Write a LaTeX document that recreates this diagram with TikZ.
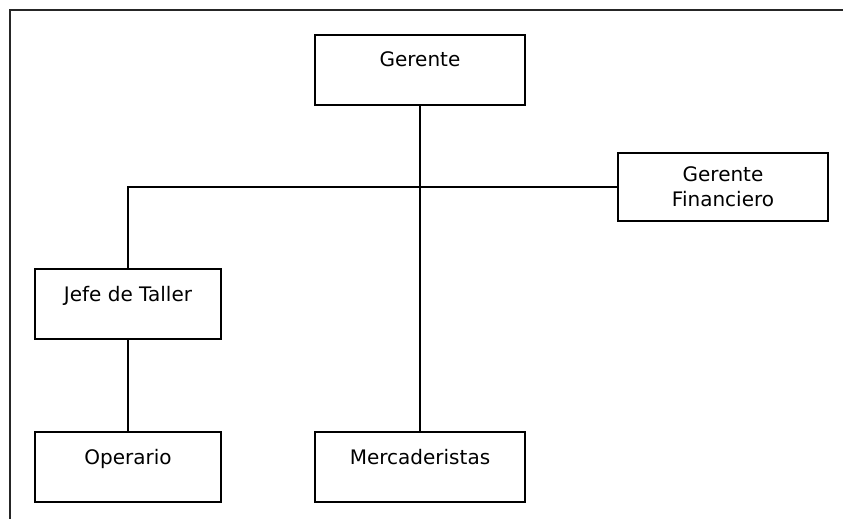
\documentclass[tikz,border=0pt]{standalone}
\usepackage{fontspec}
\setmainfont{DejaVu Sans}
\begin{document}
\begin{tikzpicture}[x=1bp,y=-1bp,
  line width=2bp,
  box/.style={draw=black, rectangle, anchor=north, inner xsep=0pt,
    inner ysep=17bp, text height=15bp, text depth=21bp,
    font=\fontsize{20bp}{25bp}\selectfont},
  wide/.style={box, minimum width=210bp},
  narrow/.style={box, minimum width=186bp},
  twoline/.style={draw=black, rectangle, anchor=north, inner sep=0pt,
    minimum width=210bp, minimum height=68bp, align=center,
    font=\fontsize{20bp}{25bp}\selectfont},
  link/.style={draw=black, line width=2bp}]
  \useasboundingbox (0,0) rectangle (843,519);
  % open frame along the top and left edges
  \draw[line width=2bp, black!85] (10,519) -- (10,10) -- (843,10);

  % boxes of the chart
  \node[wide]    (ger)  at (420,34)  {Gerente};
  \node[twoline] (fin)  at (723,152) {Gerente\\Financiero};
  \node[narrow]  (jefe) at (128,268) {Jefe de Taller};
  \node[narrow]  (ope)  at (128,431) {Operario};
  \node[wide]    (mer)  at (420,431) {Mercaderistas};

  % reporting lines
  \draw[link] (ger.south) -- (mer.north);
  \draw[link] (jefe.north) |- (fin.west);
  \draw[link] (jefe.south) -- (ope.north);
\end{tikzpicture}
\end{document}
